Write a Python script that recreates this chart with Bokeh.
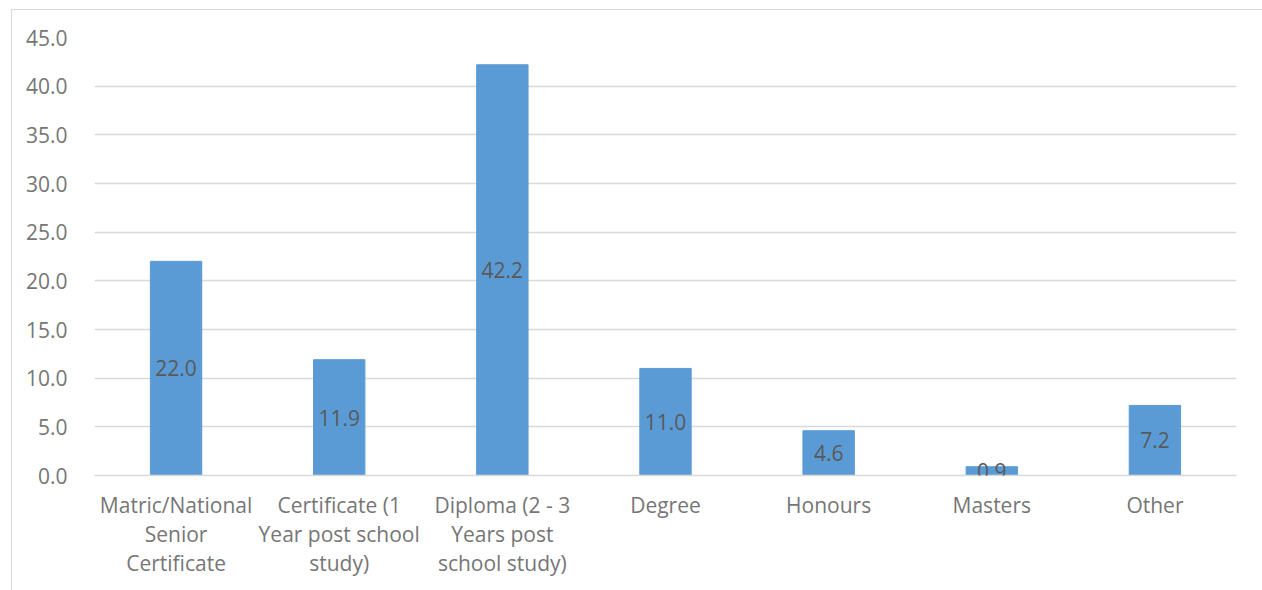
from bokeh.plotting import figure
from bokeh.models import ColumnDataSource, LabelSet, NumeralTickFormatter, FixedTicker, Range1d
from bokeh.core.properties import value
from bokeh.embed import file_html
from bokeh.resources import INLINE

categories = ["Matric/National\nSenior\nCertificate",
              "Certificate (1\nYear post school\nstudy)",
              "Diploma (2 - 3\nYears post\nschool study)",
              "Degree", "Honours", "Masters", "Other"]
values = [22.0, 11.9, 42.2, 11.0, 4.6, 0.9, 7.2]
y_ticks = [0, 5, 10, 15, 20, 25, 30, 35, 40, 45]

FONT = "Open Sans"
src = ColumnDataSource(dict(cat=categories, val=values,
                            mid=[v / 2 for v in values],
                            lab=["%.1f" % v for v in values]))

p = figure(x_range=categories, y_range=Range1d(0, 45), width=1251, height=581,
           output_backend="svg", toolbar_location=None,
           min_border_left=82, min_border_right=27, min_border_top=27, min_border_bottom=116,
           margin=(9, 0, 0, 11),
           styles={"border-top": "1px solid #d9d9d9", "border-left": "1px solid #d9d9d9"})

p.vbar(x="cat", top="val", width=0.315, source=src, color="#5B9BD5")
p.add_layout(LabelSet(x="cat", y="mid", text="lab", source=src, text_align="center",
                      text_baseline="middle", text_color="#595959", text_font_size="21px",
                      text_font=value(FONT)))

p.outline_line_color = None
p.xgrid.grid_line_color = None
p.ygrid.grid_line_color = "#d9d9d9"
p.ygrid.grid_line_width = 1.5
p.yaxis.ticker = FixedTicker(ticks=y_ticks)
p.yaxis.formatter = NumeralTickFormatter(format="0.0")
for ax in (p.xaxis, p.yaxis):
    ax.axis_line_color = None
    ax.major_tick_line_color = None
    ax.minor_tick_line_color = None
    ax.major_label_text_color = "#767676"
    ax.major_label_text_font = FONT
    ax.major_label_text_font_size = "21px"
p.xaxis.axis_line_color = "#d9d9d9"
p.xaxis.axis_line_width = 1.5
p.yaxis.major_label_standoff = 21
p.xaxis.major_label_standoff = 9
p.xaxis.major_label_text_line_height = 1.05

open("out.html", "w").write(file_html(p, INLINE))
